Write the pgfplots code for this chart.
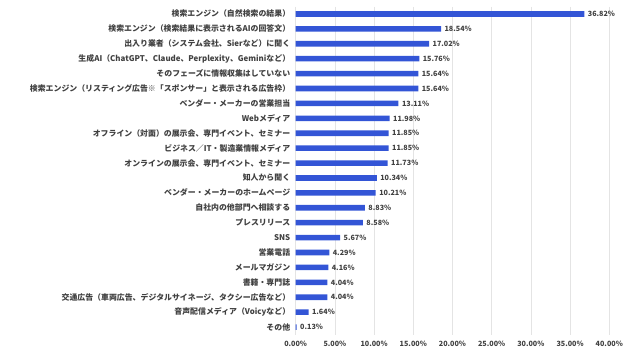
\documentclass[border=0pt]{standalone}
\usepackage{pgfplots}
\pgfplotsset{compat=1.18}
\usepackage{fontspec}
\setmainfont{Noto Sans CJK JP}
\definecolor{barblue}{HTML}{3355D6}
\definecolor{txt}{HTML}{404040}
\definecolor{gridc}{HTML}{E4E4E4}
\begin{document}
\begin{tikzpicture}[x=1pt,y=1pt]
\useasboundingbox (-295.7pt,-19.5pt) rectangle (334.3pt,334.5pt);
\begin{axis}[
  at={(0,0)}, anchor=south west,
  scale only axis,
  width=313.6pt, height=328pt,
  xbar, bar width=5.6pt,
  xmin=0, xmax=40,
  ymin=-0.5, ymax=21.5,
  y dir=reverse,
  axis line style={draw=none},
  xtick={0,5,...,40},
  xmajorgrids, grid style={gridc, line width=0.6pt},
  major tick length=0pt,
  ytick={0,...,21},
  yticklabels={検索エンジン（自然検索の結果）,検索エンジン（検索結果に表示されるAIの回答文）,出入り業者（システム会社、Sierなど）に聞く,生成AI（ChatGPT、Claude、Perplexity、Geminiなど）,そのフェーズに情報収集はしていない,検索エンジン（リスティング広告※「スポンサー」と表示される広告枠）,ベンダー・メーカーの営業担当,Webメディア,オフライン（対面）の展示会、専門イベント、セミナー,ビジネス／IT・製造業情報メディア,オンラインの展示会、専門イベント、セミナー,知人から聞く,ベンダー・メーカーのホームページ,自社内の他部門へ相談する,プレスリリース,SNS,営業電話,メールマガジン,書籍・専門誌,交通広告（車両広告、デジタルサイネージ、タクシー広告など）,音声配信メディア（Voicyなど）,その他},
  yticklabel style={font=\fontsize{7.9}{8}\selectfont\bfseries, text=txt, xshift=-2pt},
  xticklabel style={font=\fontsize{7.2}{8}\selectfont\bfseries, text=txt, yshift=-3pt},
  /pgf/number format/assume math mode=true,
  xticklabel={\pgfmathprintnumber[fixed,fixed zerofill,precision=2]{\tick}\%},
  nodes near coords={\pgfmathprintnumber[fixed,fixed zerofill,precision=2]{\pgfplotspointmeta}\%},
  nodes near coords style={font=\fontsize{7.2}{8}\selectfont\bfseries, text=txt, anchor=west, xshift=0pt},
  point meta=explicit,
  clip=false,
]
\addplot[fill=barblue, draw=none] coordinates {
(36.82,0) [36.82]
(18.54,1) [18.54]
(17.02,2) [17.02]
(15.76,3) [15.76]
(15.64,4) [15.64]
(15.64,5) [15.64]
(13.11,6) [13.11]
(11.98,7) [11.98]
(11.85,8) [11.85]
(11.85,9) [11.85]
(11.73,10) [11.73]
(10.34,11) [10.34]
(10.21,12) [10.21]
(8.83,13) [8.83]
(8.58,14) [8.58]
(5.67,15) [5.67]
(4.29,16) [4.29]
(4.16,17) [4.16]
(4.04,18) [4.04]
(4.04,19) [4.04]
(1.64,20) [1.64]
(0.13,21) [0.13]
};
\end{axis}
\end{tikzpicture}
\end{document}
